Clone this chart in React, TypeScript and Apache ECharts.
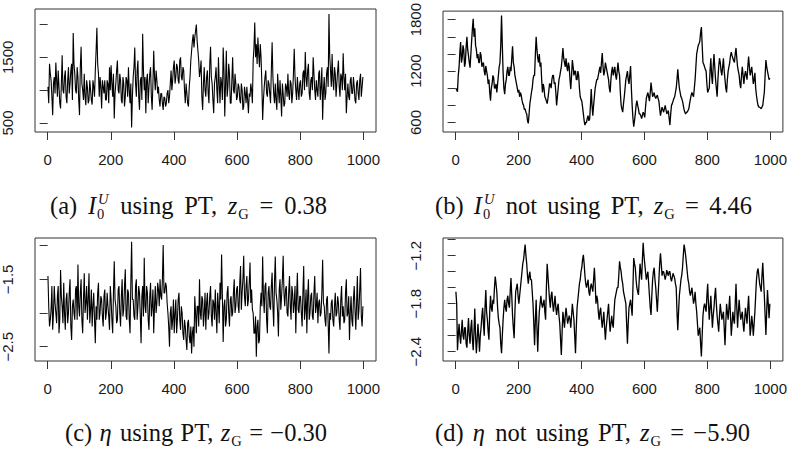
import React, { useEffect, useRef } from 'react';
import * as echarts from 'echarts';

// Two readings per 5 iterations of each MCMC trace
const ITER_STEP = 5;

const iU_usingPT = [
  1050, 1400, 1150, 620, 1200, 1420, 900, 1050, 720, 1530,
  950, 1300, 800, 1350, 1100, 1400, 1870, 1250, 950, 1200,
  620, 1660, 1000, 1250, 770, 1050, 850, 1000, 780, 1050,
  1300, 1950, 1250, 1200, 720, 1050, 1150, 850, 1100, 1350,
  1380, 900, 570, 1100, 1450, 950, 1150, 800, 1100, 900,
  1150, 1350, 800, 430, 1200, 1650, 900, 1450, 700, 1200,
  1860, 1000, 650, 1250, 1050, 1350, 700, 1600, 1000, 1150,
  1050, 750, 950, 700, 880, 800, 1000, 900, 1300, 1150,
  1450, 1200, 1350, 1100, 1500, 1150, 1300, 800, 950, 750,
  1200, 1600, 1850, 1800, 2000, 1600, 1200, 1450, 700, 1350,
  900, 1300, 800, 1660, 1100, 650, 1200, 1000, 1500, 800,
  1100, 1650, 600, 1600, 1050, 1250, 800, 1500, 950, 1100,
  900, 1050, 800, 1000, 750, 950, 1050, 650, 900, 1000,
  1450, 2030, 1700, 1800, 1350, 1500, 545, 1050, 1300, 900,
  1100, 800, 1730, 950, 1100, 700, 1000, 1150, 600, 950,
  800, 1050, 1250, 850, 1100, 950, 1630, 1000, 1200, 850,
  1150, 950, 1300, 1580, 1050, 1400, 850, 1200, 1500, 1000,
  1150, 900, 1300, 1050, 550, 1200, 950, 1350, 2160, 1300,
  1550, 1000, 1250, 1100, 1450, 900, 1200, 1560, 1000, 650,
  1100, 850, 1200, 950, 1050, 800, 1150, 850, 1250, 1050,
];
const iU_usingPT_mid = [
  800, 1250, 900, 1100, 950, 1150, 1300, 800, 1100, 1000,
  1200, 900, 1150, 950, 1300, 850, 1400, 1000, 1350, 850,
  1350, 1100, 850, 900, 1150, 800, 1150, 850, 1150, 900,
  1600, 1400, 900, 1050, 1150, 950, 850, 1150, 800, 1000,
  1100, 1250, 950, 1300, 1000, 1250, 850, 1200, 750, 1200,
  900, 1000, 1100, 900, 1350, 1100, 1300, 900, 1150, 850,
  1300, 1200, 1150, 800, 1250, 900, 1100, 1200, 1300, 950,
  850, 950, 800, 900, 750, 950, 800, 1100, 1000, 1350,
  1100, 1400, 1150, 1450, 1200, 1350, 1000, 1100, 800, 1050,
  1450, 1750, 1650, 1900, 1750, 1450, 1300, 900, 1100, 1000,
  1200, 950, 1400, 1200, 850, 1100, 1350, 800, 1100, 1200,
  850, 1300, 1100, 900, 1400, 800, 1150, 1000, 1250, 850,
  1100, 850, 1100, 700, 1050, 800, 850, 950, 1100, 800,
  1650, 1500, 1400, 1550, 1700, 1100, 850, 1200, 950, 1150,
  950, 1300, 1200, 800, 850, 1250, 800, 900, 1100, 750,
  1100, 900, 950, 1150, 800, 1250, 1200, 850, 1000, 1100,
  900, 1250, 1000, 1200, 1300, 950, 1150, 1000, 1250, 850,
  1000, 1250, 850, 1350, 1000, 850, 1250, 1050, 1500, 1050,
  1150, 1350, 900, 1300, 1050, 1250, 1000, 1200, 1250, 900,
  900, 1150, 950, 1200, 850, 1100, 950, 1150, 900, 1200,
];

const iU_notUsingPT = [
  1000, 960, 1240, 1540, 1350, 1450, 1300, 1600, 1380, 1240,
  1550, 1810, 1700, 1450, 1400, 1300, 1380, 1280, 1200, 1260,
  1150, 1100, 855, 1050, 1120, 1000, 950, 1150, 1300, 1850,
  1180, 930, 1100, 1250, 1150, 1200, 1490, 1250, 1100, 1000,
  980, 950, 860, 800, 760, 700, 590, 820, 950, 1100,
  1150, 1600, 1350, 1400, 1300, 950, 1000, 880, 820, 960,
  1050, 1100, 1150, 1070, 800, 1000, 1140, 1250, 1470, 1300,
  1350, 1200, 1250, 990, 1330, 1150, 1200, 1100, 1150, 900,
  850, 700, 570, 600, 680, 640, 990, 680, 900, 1050,
  1100, 1200, 1180, 1410, 1150, 1300, 1200, 1100, 950, 1200,
  1150, 1250, 1100, 1300, 1150, 800, 720, 900, 1100, 1200,
  1050, 1260, 800, 550, 700, 855, 760, 700, 645, 720,
  660, 880, 950, 850, 1065, 900, 950, 880, 920, 850,
  680, 780, 720, 800, 700, 740, 570, 800, 850, 900,
  1000, 1220, 1000, 900, 850, 750, 700, 720, 760, 870,
  950, 900, 1100, 1400, 1500, 1550, 1715, 1300, 1250, 1200,
  950, 1000, 1350, 1050, 1400, 1100, 900, 1250, 1300, 1150,
  1350, 1100, 950, 1200, 1300, 1420, 1350, 1300, 1470, 1250,
  1150, 1000, 1250, 1050, 1200, 1100, 1370, 1150, 1250, 1050,
  1180, 915, 800, 780, 760, 800, 950, 1330, 1200, 1100,
];
const iU_notUsingPT_mid = [
  980, 1150, 1420, 1300, 1500, 1250, 1480, 1450, 1300, 1400,
  1700, 1600, 1500, 1350, 1300, 1420, 1250, 1300, 1150, 1200,
  1050, 950, 1000, 1150, 1000, 1050, 1050, 1250, 1500, 1500,
  1000, 1050, 1200, 1150, 1250, 1350, 1300, 1150, 1050, 950,
  900, 920, 820, 750, 720, 620, 700, 880, 1000, 1150,
  1400, 1450, 1300, 1250, 1100, 1050, 900, 850, 880, 1050,
  1000, 1150, 1050, 950, 900, 1100, 1200, 1350, 1350, 1250,
  1250, 1300, 1100, 1150, 1250, 1200, 1100, 1200, 1000, 870,
  780, 620, 600, 650, 620, 800, 800, 800, 1000, 1100,
  1150, 1250, 1300, 1250, 1200, 1250, 1150, 1000, 1100, 1250,
  1200, 1150, 1200, 1200, 950, 760, 820, 1000, 1150, 1100,
  1150, 1000, 650, 620, 800, 800, 700, 680, 680, 700,
  780, 920, 900, 950, 980, 920, 900, 900, 880, 760,
  730, 750, 760, 750, 720, 650, 700, 820, 880, 950,
  1100, 1100, 950, 880, 800, 720, 720, 740, 820, 920,
  920, 1000, 1250, 1450, 1520, 1650, 1500, 1280, 1220, 1050,
  980, 1200, 1150, 1250, 1250, 1000, 1100, 1350, 1200, 1250,
  1200, 1000, 1100, 1250, 1380, 1380, 1320, 1400, 1350, 1200,
  1050, 1150, 1150, 1150, 1150, 1250, 1250, 1200, 1150, 1100,
  1000, 850, 780, 770, 780, 880, 1150, 1250, 1150, 1120,
];

const eta_usingPT = [
  -1.45, -2.2, -1.95, -2.25, -1.6, -2.0, -1.75, -2.3, -1.36, -1.9,
  -1.55, -2.25, -1.7, -2.0, -1.5, -2.4, -1.8, -2.1, -1.6, -1.28,
  -2.05, -1.5, -2.3, -1.41, -1.85, -2.1, -1.41, -1.95, -2.2, -1.7,
  -2.45, -2.1, -1.55, -2.0, -1.8, -2.2, -1.65, -2.0, -1.9, -2.25,
  -1.8, -2.3, -1.23, -1.9, -2.1, -1.6, -2.2, -1.5, -1.95, -1.35,
  -2.1, -1.7, -2.3, -0.94, -1.8, -2.1, -1.5, -1.9, -1.7, -2.45,
  -1.6, -1.18, -2.0, -1.7, -2.25, -1.55, -1.9, -2.3, -1.6, -1.85,
  -1.65, -1.5, -1.8, -0.99, -1.7, -1.6, -2.0, -2.5, -1.9, -2.1,
  -2.3, -1.8, -2.1, -1.7, -2.25, -2.0, -2.4, -2.2, -2.55, -2.1,
  -2.45, -2.6, -2.2, -1.75, -2.3, -1.9, -1.5, -2.1, -1.8, -2.0,
  -2.25, -1.7, -2.0, -1.6, -2.2, -1.85, -1.65, -2.3, -1.9, -1.55,
  -1.13, -2.43, -1.8, -2.1, -1.6, -2.2, -1.75, -2.0, -1.5, -1.9,
  -1.6, -2.0, -1.3, -1.7, -1.15, -1.9, -1.45, -1.8, -1.25, -1.65,
  -2.0, -2.3, -2.65, -2.1, -2.4, -1.7, -1.16, -2.0, -1.55, -2.3,
  -1.6, -1.95, -1.4, -2.2, -1.16, -1.8, -2.35, -1.5, -1.75, -1.15,
  -1.9, -1.6, -2.05, -1.45, -2.1, -1.7, -1.85, -2.3, -1.4, -2.0,
  -1.75, -2.2, -1.3, -1.95, -2.3, -1.5, -2.0, -1.7, -2.1, -1.45,
  -1.9, -2.15, -1.8, -2.0, -1.21, -1.9, -2.2, -1.75, -2.6, -2.1,
  -1.8, -2.2, -1.7, -2.0, -1.85, -2.25, -1.6, -1.9, -2.1, -1.5,
  -2.0, -2.4, -1.75, -2.2, -1.6, -2.25, -1.45, -1.95, -1.33, -2.2,
];
const eta_usingPT_mid = [
  -1.9, -2.1, -1.6, -2.0, -1.85, -2.15, -1.6, -2.1, -1.75, -2.15,
  -2.0, -1.8, -2.15, -1.7, -2.2, -1.9, -2.0, -1.65, -2.1, -1.9,
  -1.7, -2.1, -1.8, -2.0, -1.6, -1.8, -2.15, -1.65, -1.9, -2.1,
  -1.9, -1.7, -2.1, -1.75, -2.05, -1.75, -2.1, -1.7, -2.05, -1.6,
  -2.1, -1.7, -1.8, -2.15, -1.65, -2.0, -1.75, -2.05, -1.6, -2.05,
  -1.65, -2.1, -1.55, -1.8, -2.05, -1.6, -2.1, -1.6, -2.05, -1.75,
  -2.05, -1.9, -1.6, -2.1, -1.75, -2.05, -1.65, -1.9, -2.0, -1.55,
  -1.9, -1.75, -1.5, -1.7, -1.55, -1.85, -2.2, -2.0, -2.25, -1.8,
  -2.0, -2.3, -1.8, -2.1, -1.9, -2.3, -2.1, -2.4, -2.15, -2.35,
  -2.2, -2.3, -2.5, -2.0, -1.9, -2.2, -2.0, -1.75, -2.2, -1.7,
  -1.85, -2.1, -1.75, -2.05, -1.8, -2.1, -2.0, -1.7, -2.15, -1.8,
  -1.75, -1.9, -2.2, -1.7, -2.0, -1.8, -2.05, -1.7, -2.0, -1.65,
  -1.9, -1.55, -1.95, -1.5, -1.75, -1.6, -1.9, -1.55, -1.85, -1.95,
  -2.3, -2.05, -2.2, -2.45, -1.9, -1.9, -1.75, -1.6, -2.1, -1.7,
  -1.9, -1.6, -1.9, -1.55, -1.7, -2.0, -1.65, -1.95, -1.5, -1.7,
  -1.65, -2.0, -1.7, -1.9, -1.6, -2.0, -1.6, -1.75, -1.95, -1.75,
  -2.0, -1.7, -2.1, -1.65, -1.75, -2.1, -1.75, -2.05, -1.7, -2.0,
  -1.7, -1.85, -2.05, -1.7, -1.85, -2.1, -1.8, -2.15, -2.0, -1.85,
  -2.1, -1.9, -2.05, -1.75, -2.1, -1.8, -2.05, -2.15, -1.7, -2.05,
  -1.75, -2.0, -2.1, -1.8, -1.95, -1.85, -2.1, -1.65, -2.05, -1.9,
];

const eta_notUsingPT = [
  -1.65, -2.38, -2.05, -2.3, -2.0, -2.25, -2.1, -2.35, -1.98, -2.3,
  -2.0, -2.38, -1.86, -2.42, -2.05, -2.4, -2.1, -1.85, -2.2, -1.63,
  -2.0, -2.25, -1.7, -1.9, -1.8, -1.46, -1.65, -1.98, -2.1, -2.42,
  -2.0, -1.75, -1.9, -1.7, -1.85, -1.48, -1.95, -2.23, -1.65, -1.55,
  -1.8, -1.6, -1.4, -1.25, -1.06, -1.3, -1.55, -1.4, -1.5, -1.8,
  -2.32, -1.75, -2.4, -1.9, -1.7, -1.85, -1.75, -2.0, -1.3, -1.6,
  -1.85, -1.65, -1.9, -1.7, -1.94, -1.8, -2.05, -2.44, -1.9, -2.1,
  -1.85, -2.05, -1.95, -2.1, -1.8, -2.0, -2.42, -1.85, -1.65, -1.5,
  -1.35, -1.19, -1.45, -1.6, -1.5, -1.7, -1.55, -1.65, -1.35, -1.8,
  -1.75, -2.0, -1.85, -2.1, -1.9, -2.25, -2.0, -1.8, -2.15, -1.95,
  -2.1, -1.75, -1.65, -1.6, -1.27, -1.4, -1.55, -1.7, -1.8, -2.3,
  -1.85, -1.75, -1.95, -1.23, -1.35, -1.6, -1.69, -1.3, -1.5, -1.04,
  -1.3, -1.5, -1.4, -1.7, -1.94, -1.5, -1.35, -1.6, -1.9, -1.5,
  -1.17, -1.45, -1.4, -1.5, -1.38, -1.45, -1.4, -1.52, -1.42, -1.48,
  -1.6, -2.13, -1.7, -1.5, -1.35, -1.06, -1.2, -1.4, -1.55, -1.7,
  -1.6, -1.8, -1.65, -1.9, -2.2, -2.1, -2.46, -1.95, -1.8, -1.9,
  -1.55, -2.0, -1.7, -2.1, -1.85, -1.6, -1.95, -2.15, -1.8, -2.0,
  -1.9, -2.32, -1.8, -2.0, -1.7, -2.2, -1.9, -2.05, -1.55, -2.1,
  -1.75, -2.0, -1.9, -2.15, -1.85, -2.05, -1.7, -2.2, -1.95, -2.2,
  -1.9, -1.5, -1.36, -1.55, -1.65, -1.29, -1.7, -2.19, -1.63, -1.98,
];
const eta_notUsingPT_mid = [
  -1.8, -2.2, -2.2, -2.15, -2.2, -2.1, -2.3, -2.15, -2.2, -2.1,
  -2.25, -2.15, -2.2, -2.25, -2.2, -2.2, -1.95, -2.05, -1.85, -1.9,
  -2.15, -1.9, -1.85, -1.75, -1.6, -1.55, -1.85, -2.05, -2.3, -2.2,
  -1.85, -1.85, -1.75, -1.8, -1.65, -1.7, -2.1, -1.9, -1.6, -1.7,
  -1.7, -1.5, -1.3, -1.15, -1.2, -1.45, -1.45, -1.5, -1.65, -2.05,
  -2.0, -2.1, -2.1, -1.8, -1.8, -1.8, -1.9, -1.6, -1.45, -1.75,
  -1.7, -1.8, -1.8, -1.85, -1.85, -1.95, -2.25, -2.15, -2.0, -1.95,
  -1.95, -2.0, -2.0, -1.95, -1.9, -2.2, -2.1, -1.75, -1.55, -1.4,
  -1.25, -1.3, -1.55, -1.55, -1.65, -1.6, -1.6, -1.5, -1.55, -1.7,
  -1.9, -1.9, -2.0, -2.0, -2.1, -2.1, -1.9, -2.0, -2.05, -2.05,
  -1.9, -1.7, -1.6, -1.45, -1.35, -1.5, -1.65, -1.75, -2.05, -2.05,
  -1.8, -1.85, -1.6, -1.3, -1.5, -1.65, -1.5, -1.4, -1.25, -1.2,
  -1.4, -1.45, -1.55, -1.85, -1.7, -1.4, -1.5, -1.75, -1.7, -1.3,
  -1.3, -1.4, -1.45, -1.45, -1.42, -1.4, -1.48, -1.47, -1.45, -1.55,
  -1.9, -1.9, -1.6, -1.45, -1.2, -1.12, -1.3, -1.5, -1.65, -1.65,
  -1.7, -1.75, -1.8, -2.05, -2.15, -2.3, -2.2, -1.85, -1.85, -1.7,
  -1.8, -1.85, -1.9, -1.95, -1.7, -1.8, -2.05, -1.95, -1.9, -1.95,
  -2.1, -2.05, -1.9, -1.85, -1.95, -2.05, -2.0, -1.8, -1.85, -1.9,
  -1.9, -1.95, -2.05, -2.0, -1.95, -1.85, -1.95, -2.1, -2.05, -2.05,
  -1.7, -1.4, -1.45, -1.6, -1.45, -1.5, -1.95, -1.9, -1.8, -1.8,
];

const xTickValues = [0, 200, 400, 600, 800, 1000];
const yTicksA = [500, 1000, 1500, 2000];
const yLabelsA = [500, 1500];
const yTicksB = [600, 800, 1000, 1200, 1400, 1600, 1800];
const yLabelsB = [600, 1200, 1800];
const yTicksC = [-1.0, -1.5, -2.0, -2.5];
const yLabelsC = [-1.5, -2.5];
const yTicksD = [-1.0, -1.2, -1.4, -1.6, -1.8, -2.0, -2.2, -2.4];
const yLabelsD = [-1.2, -1.8, -2.4];

const captionValues = ['0.38', '4.46', '\u22120.30', '\u22125.90'];

type Tok =
  | { k: 'rm' | 'it' | 'subrm'; t: string }
  | { k: 'stack'; sup: string; sub: string }
  | { k: 'sp' };

const SERIF = '"Liberation Serif", "Times New Roman", serif';
const FS = 24.5;
const FS_S = 14.5;

function measure(ctx: CanvasRenderingContext2D, t: string, size: number, italic: boolean) {
  ctx.font = `${italic ? 'italic ' : ''}${size}px ${SERIF}`;
  return ctx.measureText(t).width;
}

function buildCaption(ctx: CanvasRenderingContext2D, toks: Tok[], x0: number, x1: number, baseline: number) {
  const widths = toks.map((tk) => {
    if (tk.k === 'sp') return FS * 0.25;
    if (tk.k === 'stack') return Math.max(measure(ctx, tk.sup, FS_S, true) + 1, measure(ctx, tk.sub, FS_S, false)) + 1;
    if (tk.k === 'subrm') return measure(ctx, tk.t, FS_S, false);
    return measure(ctx, tk.t, FS, tk.k === 'it') + (tk.k === 'it' ? 1 : 0);
  });
  const natural = widths.reduce((a, b) => a + b, 0);
  const nsp = toks.filter((t) => t.k === 'sp').length;
  const extra = nsp > 0 ? Math.max(0, (x1 - x0 - natural) / nsp) : 0;
  const total = natural + extra * nsp;
  const els: any[] = [];
  let x = (x0 + x1) / 2 - total / 2;
  const mk = (text: string, xx: number, bl: number, size: number, italic: boolean) => ({
    type: 'text',
    x: xx,
    y: bl - size * 0.34,
    silent: true,
    style: {
      text,
      fill: '#111',
      fontSize: size,
      fontFamily: SERIF,
      fontStyle: italic ? 'italic' : 'normal',
      align: 'left',
      textAlign: 'left',
      verticalAlign: 'middle',
      textVerticalAlign: 'middle',
    },
  });
  toks.forEach((tk, i) => {
    if (tk.k === 'sp') {
      x += widths[i] + extra;
      return;
    }
    if (tk.k === 'stack') {
      els.push(mk(tk.sup, x + 1, baseline - 10.5, FS_S, true));
      els.push(mk(tk.sub, x, baseline + 5, FS_S, false));
    } else if (tk.k === 'subrm') {
      els.push(mk(tk.t, x, baseline + 4.5, FS_S, false));
    } else {
      els.push(mk(tk.t, x, baseline, FS, tk.k === 'it'));
    }
    x += widths[i];
  });
  return els;
}

function captionTokens(letter: string, sym: 'I' | 'eta', not: boolean, val: string): Tok[] {
  const t: Tok[] = [{ k: 'rm', t: `(${letter})` }, { k: 'sp' }];
  if (sym === 'I') t.push({ k: 'it', t: 'I' }, { k: 'stack', sup: 'U', sub: '0' });
  else t.push({ k: 'it', t: '\u03b7' });
  t.push({ k: 'sp' });
  if (not) t.push({ k: 'rm', t: 'not' }, { k: 'sp' });
  t.push(
    { k: 'rm', t: 'using' }, { k: 'sp' },
    { k: 'rm', t: 'PT,' }, { k: 'sp' },
    { k: 'it', t: 'z' }, { k: 'subrm', t: 'G' }, { k: 'sp' },
    { k: 'rm', t: '=' }, { k: 'sp' },
    { k: 'rm', t: val },
  );
  return t;
}

function traceData(main: number[], mid: number[]) {
  const out: number[][] = [];
  main.forEach((v, j) => {
    out.push([j * ITER_STEP + 1, v]);
    if (j < mid.length) out.push([j * ITER_STEP + 3.5, mid[j]]);
  });
  return out;
}

export default function App() {
  const ref = useRef<HTMLDivElement>(null);
  useEffect(() => {
    if (!ref.current) return;
    const chart = echarts.init(ref.current, undefined, { renderer: 'svg' });

    const intFmt = (v: number) => String(v);
    const decFmt = (v: number) => (v < 0 ? '\u2212' : '') + Math.abs(v).toFixed(1);
    const panels = [
      { data: traceData(iU_usingPT, iU_usingPT_mid), rect: { left: 34, top: 9, width: 342, height: 123 }, min: 363, max: 2235, ticks: yTicksA, labels: yLabelsA, fmt: intFmt, lw: 1.1 },
      { data: traceData(iU_notUsingPT, iU_notUsingPT_mid), rect: { left: 443, top: 9, width: 341, height: 123 }, min: 489, max: 1900, ticks: yTicksB, labels: yLabelsB, fmt: intFmt, lw: 1.3 },
      { data: traceData(eta_usingPT, eta_usingPT_mid), rect: { left: 34, top: 238, width: 342, height: 123 }, min: -2.713, max: -0.885, ticks: yTicksC, labels: yLabelsC, fmt: decFmt, lw: 1.1 },
      { data: traceData(eta_notUsingPT, eta_notUsingPT_mid), rect: { left: 443, top: 238, width: 341, height: 123 }, min: -2.516, max: -0.979, ticks: yTicksD, labels: yLabelsD, fmt: decFmt, lw: 1.3 },
    ];

    const axisFont = { fontFamily: '"Liberation Sans", Arial, sans-serif', fontSize: 15, color: '#1a1a1a' };

    const canvas = document.createElement('canvas');
    const ctx = canvas.getContext('2d') as CanvasRenderingContext2D;
    const graphics = [
      ...buildCaption(ctx, captionTokens('a', 'I', false, captionValues[0]), 50, 327, 214),
      ...buildCaption(ctx, captionTokens('b', 'I', true, captionValues[1]), 435, 752, 214),
      ...buildCaption(ctx, captionTokens('c', 'eta', false, captionValues[2]), 65, 327, 441),
      ...buildCaption(ctx, captionTokens('d', 'eta', true, captionValues[3]), 435, 750, 441),
    ];

    chart.setOption({
      animation: false,
      backgroundColor: '#fff',
      grid: panels.map((p) => ({ ...p.rect, show: true, borderColor: '#333', borderWidth: 1, backgroundColor: 'transparent' })),
      xAxis: panels.map((_, i) => ({
        type: 'value',
        gridIndex: i,
        min: -40,
        max: 1040,
        splitLine: { show: false },
        axisLine: { show: false },
        axisTick: { show: true, length: 8, customValues: xTickValues, lineStyle: { color: '#333', width: 1 } },
        axisLabel: { show: true, margin: 20, customValues: xTickValues, formatter: intFmt, ...axisFont },
      })),
      yAxis: panels.map((p, i) => ({
        type: 'value',
        gridIndex: i,
        min: p.min,
        max: p.max,
        splitLine: { show: false },
        axisLine: { show: false },
        axisTick: { show: true, length: 8, customValues: p.ticks, lineStyle: { color: '#333', width: 1 } },
        axisLabel: { show: true, rotate: 90, margin: 20, customValues: p.labels, formatter: p.fmt, ...axisFont },
      })),
      series: panels.map((p, i) => ({
        type: 'line',
        xAxisIndex: i,
        yAxisIndex: i,
        showSymbol: false,
        symbol: 'none',
        silent: true,
        lineStyle: { color: '#000', width: p.lw },
        data: p.data,
      })),
      graphic: graphics,
    });
    return () => chart.dispose();
  }, []);
  return <div ref={ref} style={{ position: 'absolute', left: 0, top: 0, width: 790, height: 452 }} />;
}
